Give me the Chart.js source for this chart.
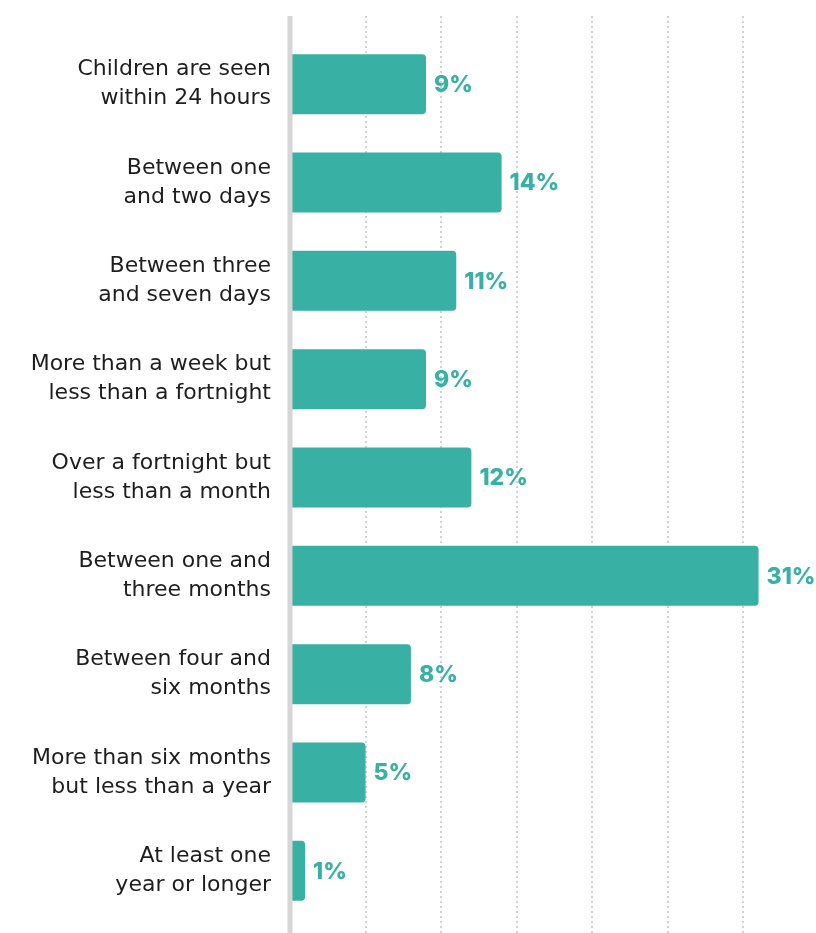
<!DOCTYPE html>
<html lang="en">
<head>
    <meta charset="UTF-8">
    <title>Waiting times</title>
    <script src="https://cdn.jsdelivr.net/npm/chart.js"></script>
    <style>
        body { margin: 0; background: #fff; }
    </style>
</head>
<body>
    <div style="width: 816px; height: 933px;">
        <canvas id="waitChart"></canvas>
    </div>

    <script>
        const categories = [
            ['Children are seen', 'within 24 hours'],
            ['Between one', 'and two days'],
            ['Between three', 'and seven days'],
            ['More than a week but', 'less than a fortnight'],
            ['Over a fortnight but', 'less than a month'],
            ['Between one and', 'three months'],
            ['Between four and', 'six months'],
            ['More than six months', 'but less than a year'],
            ['At least one', 'year or longer']
        ];
        const percentages = [9, 14, 11, 9, 12, 31, 8, 5, 1];
        const gridValues = [5, 10, 15, 20, 25, 30];

        const teal = 'rgb(56, 176, 164)';
        const fontFamily = '"DejaVu Sans", sans-serif';

        // dotted grid + thick grey axis line, running the full height
        const gridPlugin = {
            id: 'gridLines',
            beforeDatasetsDraw(chart) {
                const ctx = chart.ctx;
                const x = chart.scales.x;
                ctx.save();
                ctx.strokeStyle = '#d2d2d2';
                ctx.lineWidth = 2;
                ctx.setLineDash([2, 3]);
                gridValues.forEach(v => {
                    const px = Math.round(x.getPixelForValue(v));
                    ctx.beginPath();
                    ctx.moveTo(px, 16);
                    ctx.lineTo(px, chart.height);
                    ctx.stroke();
                });
                ctx.restore();
            },
            afterDatasetsDraw(chart) {
                const ctx = chart.ctx;
                const px = chart.scales.x.getPixelForValue(0);
                ctx.save();
                ctx.fillStyle = '#d6d6d6';
                ctx.fillRect(px - 2.5, 16, 5, chart.height - 16);
                ctx.restore();
            }
        };

        // value labels at the end of each bar
        const labelPlugin = {
            id: 'barLabels',
            afterDatasetsDraw(chart) {
                const ctx = chart.ctx;
                const meta = chart.getDatasetMeta(0);
                ctx.save();
                ctx.fillStyle = teal;
                ctx.font = '800 23px Inter, sans-serif';
                ctx.textAlign = 'left';
                ctx.textBaseline = 'middle';
                meta.data.forEach((bar, i) => {
                    ctx.fillText(percentages[i] + '%', bar.x + 8, bar.y + 1);
                });
                ctx.restore();
            }
        };

        new Chart(document.getElementById('waitChart'), {
            type: 'bar',
            data: {
                labels: categories,
                datasets: [{
                    data: percentages,
                    backgroundColor: teal,
                    borderRadius: 4,
                    borderSkipped: 'start',
                    barPercentage: 0.61,
                    categoryPercentage: 1
                }]
            },
            options: {
                indexAxis: 'y',
                responsive: true,
                maintainAspectRatio: false,
                animation: false,
                layout: { padding: { top: 35, bottom: 13, left: 0, right: 0 } },
                plugins: {
                    legend: { display: false },
                    tooltip: { enabled: false }
                },
                scales: {
                    x: {
                        min: 0,
                        max: 34.8,
                        display: false,
                        grid: { display: false }
                    },
                    y: {
                        grid: { display: false, drawTicks: false },
                        border: { display: false },
                        afterFit(scale) {
                            scale.width = 290;
                            scale.paddingTop = 0;
                            scale.paddingBottom = 0;
                        },
                        ticks: {
                            padding: 19,
                            color: '#1e1e1e',
                            font: { family: fontFamily, size: 22, lineHeight: 1.32 }
                        }
                    }
                }
            },
            plugins: [gridPlugin, labelPlugin]
        });
    </script>
</body>
</html>
